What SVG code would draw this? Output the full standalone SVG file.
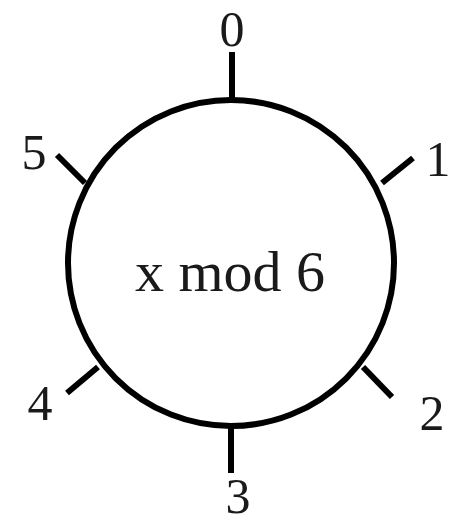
<svg xmlns="http://www.w3.org/2000/svg" width="449" height="525" viewBox="0 0 449 525">
<style>
.ln{stroke:#000;stroke-width:6;fill:none;}
.lbl{font-family:"Liberation Serif","DejaVu Serif",serif;font-size:50px;fill:#1a1a1a;text-anchor:middle;}
.in{font-family:"Liberation Serif","DejaVu Serif",serif;font-size:58px;fill:#1a1a1a;text-anchor:middle;}
</style>
<rect width="449" height="525" fill="#fff"/>
<g id="connectors">
<line class="ln" x1="232" y1="52" x2="232" y2="101"/>
<line class="ln" x1="382" y1="183" x2="413" y2="158"/>
<line class="ln" x1="363" y1="367" x2="392" y2="397"/>
<line class="ln" x1="231" y1="424" x2="231" y2="473"/>
<line class="ln" x1="98" y1="367" x2="67" y2="393"/>
<line class="ln" x1="85" y1="183" x2="57" y2="155"/>
</g>
<g id="circle">
<circle class="ln" cx="231" cy="263" r="163"/>
<text class="in" x="230" y="291">x mod 6</text>
</g>
<g id="label0"><text class="lbl" x="232" y="46">0</text></g>
<g id="label1"><text class="lbl" x="438" y="176">1</text></g>
<g id="label2"><text class="lbl" x="432" y="430">2</text></g>
<g id="label3"><text class="lbl" x="238" y="513">3</text></g>
<g id="label4"><text class="lbl" x="40" y="420">4</text></g>
<g id="label5"><text class="lbl" x="34" y="169">5</text></g>
</svg>
